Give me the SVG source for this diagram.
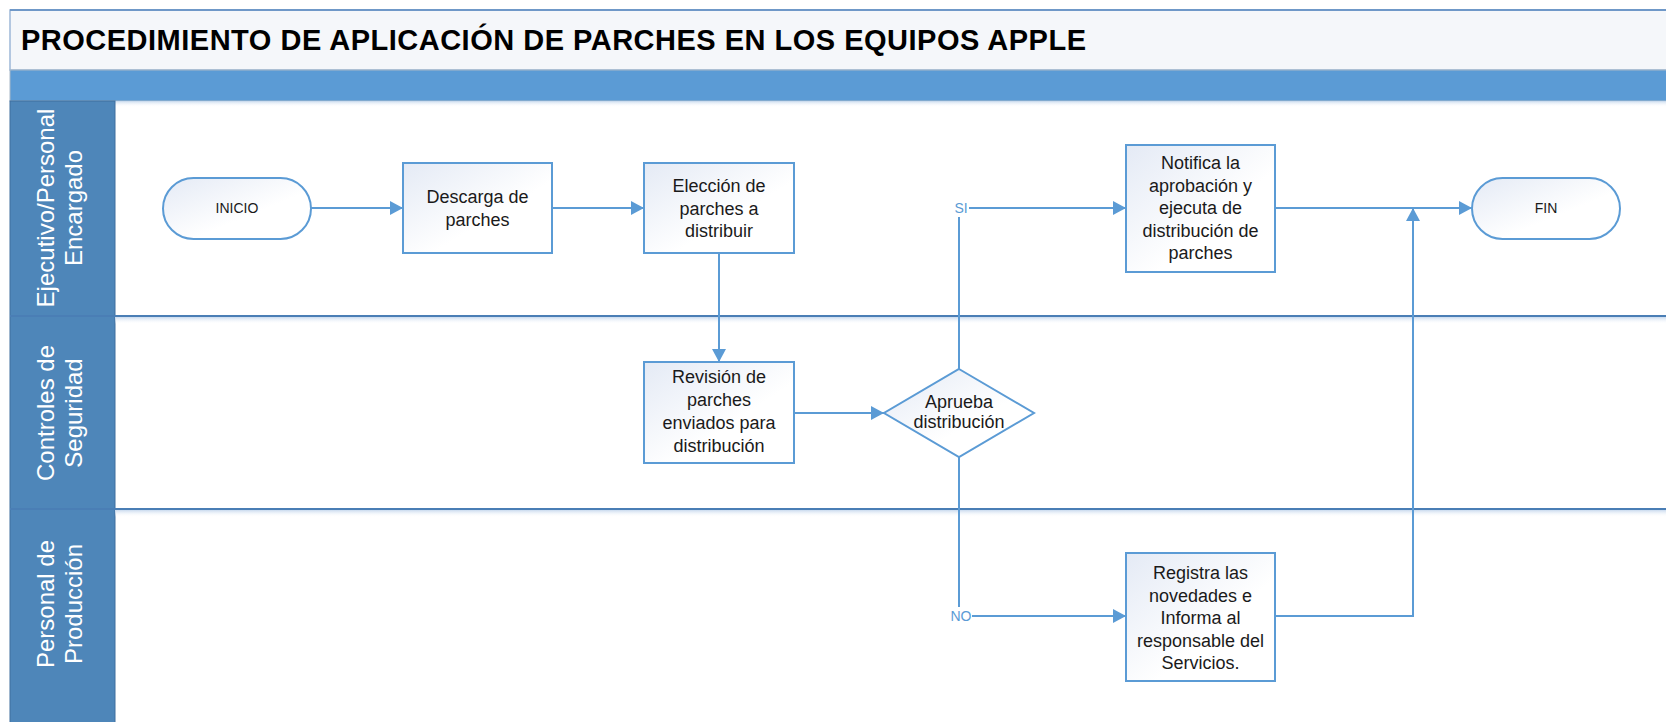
<svg xmlns="http://www.w3.org/2000/svg" width="1666" height="722" viewBox="0 0 1666 722">
<style>
.box{fill:url(#g);stroke:#5B9BD5;stroke-width:2}
.t{font-family:"Liberation Sans",Arial,sans-serif;font-size:18px;fill:#1a1a1a;text-anchor:middle}
.ts{font-family:"Liberation Sans",Arial,sans-serif;font-size:14px;fill:#1a1a1a;text-anchor:middle}
.lane{font-family:"Liberation Sans",Arial,sans-serif;font-size:24px;fill:#ffffff;text-anchor:middle}
.c{fill:none;stroke:#5B9BD5;stroke-width:2}
.lbl{font-family:"Liberation Sans",Arial,sans-serif;font-size:14px;fill:#5B9BD5;text-anchor:middle}
.div{stroke:#4A7EB5;stroke-width:2}
</style>
<defs>
<linearGradient id="g" x1="0" y1="0" x2="1" y2="1">
<stop offset="0" stop-color="#E4EAF5"/>
<stop offset="0.6" stop-color="#FFFFFF"/>
</linearGradient>
<linearGradient id="sh" x1="0" y1="0" x2="0" y2="1">
<stop offset="0" stop-color="#C9DAEE"/>
<stop offset="1" stop-color="#FFFFFF" stop-opacity="0"/>
</linearGradient>
<marker id="a" markerUnits="userSpaceOnUse" markerWidth="14" markerHeight="14" refX="13" refY="7" orient="auto">
<path d="M0,0 L13,7 L0,14 z" fill="#5B9BD5"/>
</marker>
</defs>
<rect width="1666" height="722" fill="#ffffff"/>
<g id="header">
<rect x="10" y="10" width="1666" height="60" fill="#F5F7FA" stroke="#9DB8D8" stroke-width="1.5"/>
<line x1="10" y1="10" x2="1666" y2="10" stroke="#6F98C8" stroke-width="2"/>
<text x="21" y="50" font-family="'Liberation Sans',Arial,sans-serif" font-size="29px" font-weight="bold" fill="#000" textLength="1065" lengthAdjust="spacing">PROCEDIMIENTO DE APLICACIÓN DE PARCHES EN LOS EQUIPOS APPLE</text>
<rect x="10" y="70" width="1666" height="31" fill="#5B9BD5" stroke="#A8B8C8" stroke-width="1"/>
<rect x="115" y="101" width="1551" height="6" fill="url(#sh)"/>
</g>
<g id="lanes">
<rect x="10" y="101" width="105" height="625" fill="#4E86B9" stroke="#3F6E9E" stroke-width="1"/>
<rect x="115" y="317" width="1551" height="7" fill="url(#sh)"/>
<rect x="115" y="510" width="1551" height="7" fill="url(#sh)"/>
<line class="div" x1="10" y1="316" x2="1666" y2="316"/>
<line class="div" x1="10" y1="509" x2="1666" y2="509"/>
<text class="lane" transform="translate(60,208) rotate(-90)"><tspan x="0" y="-6">Ejecutivo/Personal</tspan><tspan x="0" y="22">Encargado</tspan></text>
<text class="lane" transform="translate(60,413) rotate(-90)"><tspan x="0" y="-6">Controles de</tspan><tspan x="0" y="22">Seguridad</tspan></text>
<text class="lane" transform="translate(60,604) rotate(-90)"><tspan x="0" y="-6">Personal de</tspan><tspan x="0" y="22">Producción</tspan></text>
</g>
<g id="connectors">
<path class="c" d="M311,208 H403" marker-end="url(#a)"/>
<path class="c" d="M552,208 H644" marker-end="url(#a)"/>
<path class="c" d="M719,253 V362" marker-end="url(#a)"/>
<path class="c" d="M794,413 H884" marker-end="url(#a)"/>
<path class="c" d="M959,369 V217"/>
<text class="lbl" x="961" y="213">SI</text>
<path class="c" d="M969,208 H1126" marker-end="url(#a)"/>
<path class="c" d="M959,457 V607"/>
<text class="lbl" x="961" y="621">NO</text>
<path class="c" d="M972,616 H1126" marker-end="url(#a)"/>
<path class="c" d="M1275,208 H1472" marker-end="url(#a)"/>
<path class="c" d="M1275,616 H1413 V208" marker-end="url(#a)"/>
</g>
<g id="inicio">
<rect class="box" x="163" y="178" width="148" height="61" rx="30.5"/>
<text class="ts" x="237" y="213">INICIO</text>
</g>
<g id="descarga">
<rect class="box" x="403" y="163" width="149" height="90"/>
<text class="t" x="477.5"><tspan x="477.5" y="203">Descarga de</tspan><tspan x="477.5" y="226">parches</tspan></text>
</g>
<g id="eleccion">
<rect class="box" x="644" y="163" width="150" height="90"/>
<text class="t"><tspan x="719" y="192">Elección de</tspan><tspan x="719" y="214.5">parches a</tspan><tspan x="719" y="237">distribuir</tspan></text>
</g>
<g id="revision">
<rect class="box" x="644" y="362" width="150" height="101"/>
<text class="t"><tspan x="719" y="383">Revisión de</tspan><tspan x="719" y="406">parches</tspan><tspan x="719" y="429">enviados para</tspan><tspan x="719" y="452">distribución</tspan></text>
</g>
<g id="aprueba">
<polygon class="box" points="959,369 1034,413 959,457 884,413"/>
<text class="t"><tspan x="959" y="407.5">Aprueba</tspan><tspan x="959" y="428">distribución</tspan></text>
</g>
<g id="notifica">
<rect class="box" x="1126" y="145" width="149" height="127"/>
<text class="t"><tspan x="1200.5" y="169">Notifica la</tspan><tspan x="1200.5" y="191.5">aprobación y</tspan><tspan x="1200.5" y="214">ejecuta de</tspan><tspan x="1200.5" y="236.5">distribución de</tspan><tspan x="1200.5" y="259">parches</tspan></text>
</g>
<g id="fin">
<rect class="box" x="1472" y="178" width="148" height="61" rx="30.5"/>
<text class="ts" x="1546" y="213">FIN</text>
</g>
<g id="registra">
<rect class="box" x="1126" y="553" width="149" height="128"/>
<text class="t"><tspan x="1200.5" y="579">Registra las</tspan><tspan x="1200.5" y="601.5">novedades e</tspan><tspan x="1200.5" y="624">Informa al</tspan><tspan x="1200.5" y="646.5">responsable del</tspan><tspan x="1200.5" y="669">Servicios.</tspan></text>
</g>
</svg>
